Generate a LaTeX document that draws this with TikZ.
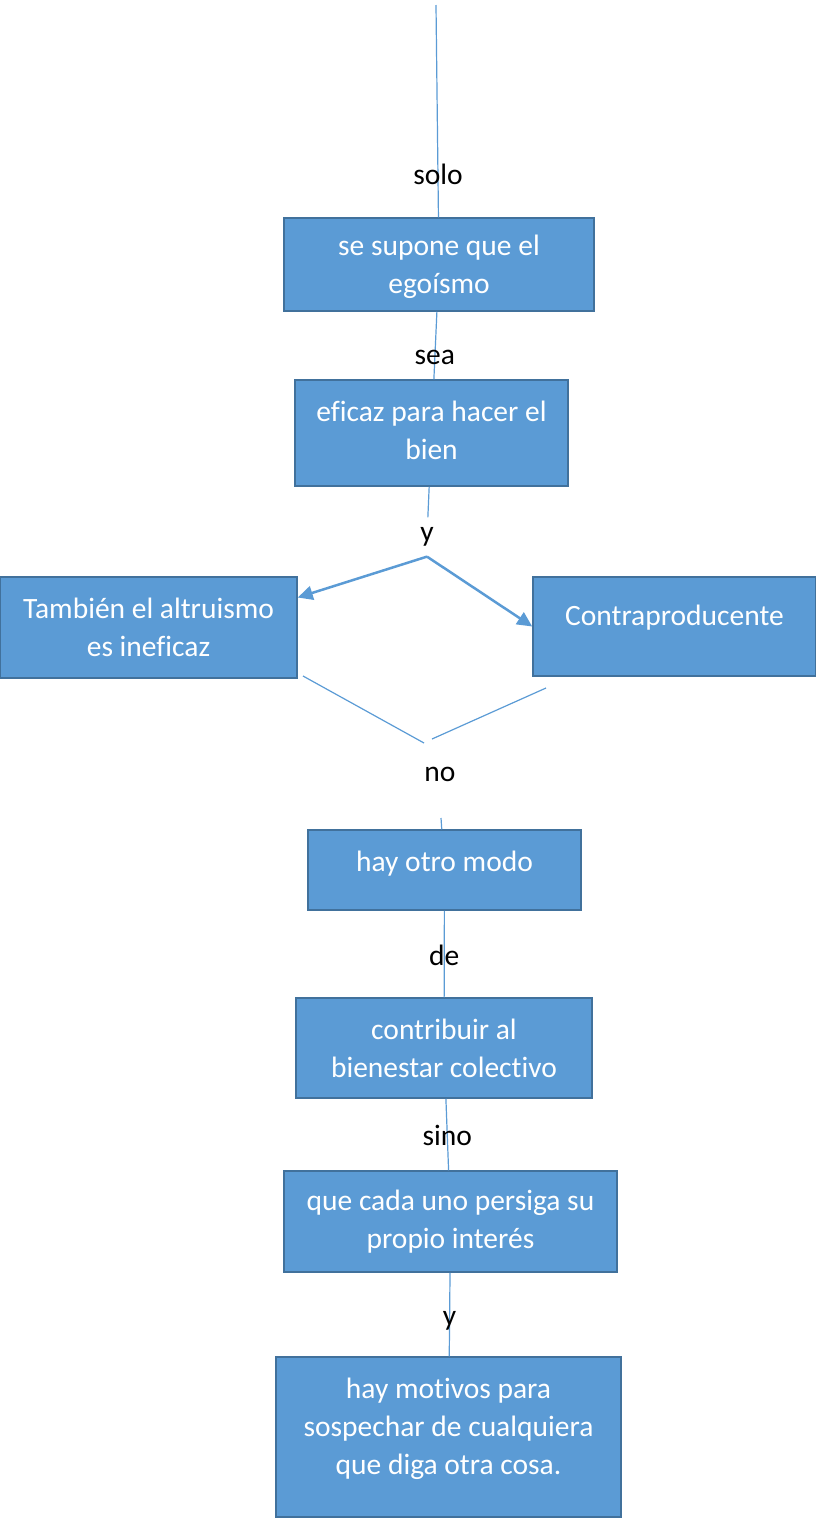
\documentclass[tikz,border=0pt]{standalone}
\usepackage{fontspec}
\setmainfont{Carlito}[Ligatures=NoCommon]
\usetikzlibrary{arrows.meta, positioning}
\definecolor{boxfill}{RGB}{91,155,213}
\definecolor{boxline}{RGB}{65,113,156}
\definecolor{wire}{RGB}{91,155,213}

\begin{document}
\begin{tikzpicture}[x=1pt, y=-1pt,
    caja/.style={draw=boxline, line width=1.5pt, fill=boxfill, text=white, align=center, inner sep=0pt, font=\fontsize{29.5}{38}\selectfont},
    palabra/.style={inner sep=0pt, font=\fontsize{29.5}{38}\selectfont},
    linea/.style={draw=wire, line width=1.2pt},
    flecha/.style={draw=wire, line width=2.5pt, -{Triangle[length=15pt,width=14pt]}}]
            \useasboundingbox (0,0) rectangle (816,1519);
            \node[caja, minimum width=310, minimum height=93, text depth=0pt] (1) at (439,264.5) {se supone que el\\egoísmo};
            \node[caja, minimum width=273, minimum height=106, text depth=6pt] (2) at (431.5,433) {eficaz para hacer el\\bien};
            \node[caja, minimum width=297, minimum height=101] (3) at (148.5,627.5) {También el altruismo\\es ineficaz};
            \node[caja, minimum width=283, minimum height=99, text depth=22pt] (4) at (674.5,626.5) {Contraproducente};
            \node[caja, minimum width=273, minimum height=80, text depth=18pt] (5) at (444.5,870) {hay otro modo};
            \node[caja, minimum width=296, minimum height=100] (6) at (444,1048) {contribuir al\\bienestar colectivo};
            \node[caja, minimum width=333, minimum height=101] (7) at (450.5,1221.5) {que cada uno persiga su\\propio interés};
            \node[caja, minimum width=345, minimum height=160, text depth=22pt] (8) at (448.5,1437) {hay motivos para\\sospechar de cualquiera\\que diga otra cosa.};
            \node[palabra, inner sep=10pt] (y) at (427,537) {y};
            \node[palabra] (no) at (440,774) {no};
            \coordinate (inicio) at (436,5);
            \coordinate (izq) at (303,676);
            \coordinate (izqfin) at (424,743);
            \coordinate (der) at (546,688);
            \coordinate (derfin) at (432,739);
            \coordinate (bajo) at (441,818);

            \draw[linea] (inicio) -- node[palabra, pos=0.8] {solo} (1);
            \draw[linea] (1) -- node[palabra, pos=0.67] {sea} (2);
            \draw[linea] (2) -- (y);
            \draw[flecha] (y.south) -- ([yshift=30pt]3.east);
            \draw[flecha] (y.south) -- (4.west);
            \draw[linea] (izq) -- (izqfin);
            \draw[linea] (der) -- (derfin);
            \draw[linea] (bajo) -- (5);
            \draw[linea] (5) -- node[palabra, pos=0.51] {de} (6);
            \draw[linea] (6) -- node[palabra, pos=0.51] {sino} (7);
            \draw[linea] (7) -- node[palabra, pos=0.58] {y} (8);
        \end{tikzpicture}
\end{document}
